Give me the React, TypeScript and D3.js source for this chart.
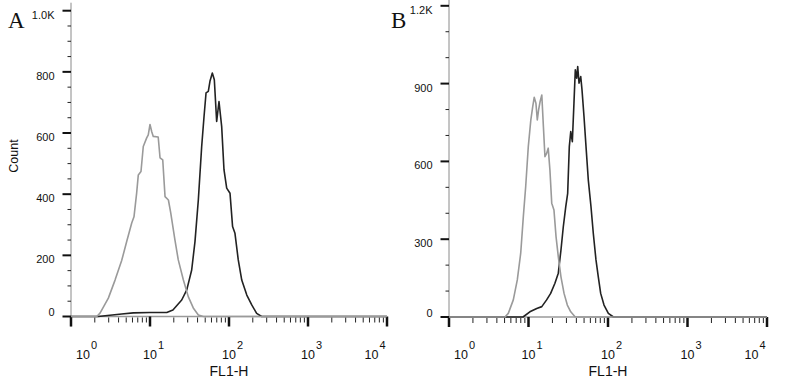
import React from "react";
import * as d3 from "d3";

// ---- Panel A data (FL1-H value, count) ----
const grayA_x = [1, 2.12, 2.33, 2.97, 3.61, 4.38, 5.07, 5.87, 6.27, 6.78, 7.11, 7.69, 8.22, 9.08, 9.51, 10, 10.5, 11.0, 12.7, 13.4, 14.5, 15.5, 17.1, 18.3, 20.7, 22.8, 26.4, 30.5, 35.3, 40.9, 47.3, 10000];
const grayA_y = [0, 0, 11, 60, 119, 183, 245, 306, 326, 404, 463, 474, 556, 584, 594, 628, 605, 589, 587, 519, 512, 392, 381, 339, 250, 185, 120, 65, 28, 5, 0, 0];
const darkA_x = [1, 2.2, 4.38, 6.15, 10, 16.3, 19.5, 25.2, 29.2, 33.7, 37.1, 40.9, 45.1, 48.3, 51.2, 54.7, 57.4, 61.5, 65.2, 69.8, 74.7, 80.8, 86.4, 93.5, 103, 111, 119, 131, 145, 168, 194, 224, 259, 10000];
const darkA_y = [0, 0, 8, 12, 13, 13, 21, 54, 87, 152, 245, 381, 556, 654, 731, 736, 769, 796, 774, 638, 703, 621, 480, 420, 403, 294, 272, 185, 119, 70, 38, 10, 0, 0];

// ---- Panel B data ----
const grayB_x = [1, 5.06, 5.57, 6.44, 7.23, 7.98, 8.61, 9.22, 9.94, 10.7, 11.3, 11.8, 12.4, 12.9, 13.4, 14.0, 14.7, 15.4, 16.1, 16.9, 17.7, 18.6, 19.6, 20.9, 22.2, 23.7, 25.6, 28.0, 30.8, 34.0, 38.5, 42.3, 10000];
const grayB_y = [0, 0, 14, 66, 143, 246, 387, 503, 657, 760, 811, 847, 824, 760, 799, 831, 856, 734, 618, 631, 651, 567, 439, 413, 310, 233, 155, 91, 46, 20, 1, 0, 0];
const darkB_x = [1, 8.53, 10.4, 12.7, 14.7, 16.9, 19.0, 21.5, 23.7, 25.6, 27.4, 29.4, 31.1, 32.6, 34.0, 35.6, 37.3, 38.8, 40.4, 41.6, 43.2, 45.4, 47.1, 49.9, 52.9, 56.5, 61.1, 65.3, 70.6, 75.5, 80.9, 89.1, 101, 117, 10000];
const darkB_y = [0, 0, 20, 33, 40, 66, 91, 130, 169, 258, 348, 425, 477, 657, 715, 676, 824, 953, 921, 966, 902, 927, 876, 773, 657, 529, 425, 323, 220, 155, 91, 46, 14, 0, 0];

// ---- Axis ticks ----
const yTicksA = [0, 200, 400, 600, 800, 1000];
const yLabelsA = ["0", "200", "400", "600", "800", "1.0K"];
const yMinorStepA = 50;
const yTicksB = [0, 300, 600, 900, 1200];
const yLabelsB = ["0", "300", "600", "900", "1.2K"];
const yMinorStepB = 100;
const xDecades = [1, 10, 100, 1000, 10000];
const xExponents = ["0", "1", "2", "3", "4"];
const xTitle = "FL1-H";
const yTitle = "Count";

const FONT = "'Liberation Sans', Arial, Helvetica, sans-serif";
const GRAY = "#9a9a9a";
const DARK = "#222222";

type PanelProps = {
  letter: string;
  x0: number;
  x1: number;
  yTop: number;
  yBottom: number;
  yMax: number;
  yTicks: number[];
  yLabels: string[];
  yMinorStep: number;
  gx: number[];
  gy: number[];
  dx: number[];
  dy: number[];
  showYTitle: boolean;
  letterX: number;
};

function Panel(p: PanelProps) {
  const x = d3.scaleLog().domain([1, 10000]).range([p.x0, p.x1]);
  const y = d3.scaleLinear().domain([0, p.yMax]).range([p.yBottom, p.yTop]);
  const line = d3
    .line<[number, number]>()
    .x((d) => x(d[0]))
    .y((d) => y(d[1]));
  const gray = p.gx.map((v, i) => [v, p.gy[i]] as [number, number]);
  const dark = p.dx.map((v, i) => [v, p.dy[i]] as [number, number]);
  const minors: number[] = [];
  for (let v = 0; v <= p.yMax; v += p.yMinorStep) {
    if (!p.yTicks.includes(v)) minors.push(v);
  }
  const xMinors: number[] = [];
  for (let d = 1; d < 10000; d *= 10) {
    for (let k = 2; k <= 9; k++) xMinors.push(d * k);
  }
  const ax = x(1);
  const ay = y(0);
  return (
    <g>
      <text x={p.letterX} y={28} fontFamily="'Liberation Serif', 'Times New Roman', serif" fontSize={23} fill="#111">
        {p.letter}
      </text>
      {p.showYTitle && (
        <text
          transform={`translate(${18},${156}) rotate(-90)`}
          textAnchor="middle"
          fontFamily={FONT}
          fontSize={12.5}
          fill="#111"
        >
          {yTitle}
        </text>
      )}
      {/* y axis line */}
      <line x1={ax} x2={ax} y1={p.yTop - 8} y2={ay + 10} stroke="#8a8a8a" strokeWidth={1} />
      {/* x axis line */}
      <line x1={ax} x2={p.x1} y1={ay} y2={ay} stroke={GRAY} strokeWidth={1.5} />
      {/* y ticks */}
      {p.yTicks.map((t, i) => (
        <g key={"yt" + i}>
          <line x1={ax - 8.5} x2={ax} y1={y(t)} y2={y(t)} stroke="#111" strokeWidth={2} />
          <text
            x={ax - 16.5}
            y={t === 0 ? y(t) - 0.5 : y(t) + 8}
            textAnchor="end"
            fontFamily={FONT}
            fontSize={11}
            fill="#111"
          >
            {p.yLabels[i]}
          </text>
        </g>
      ))}
      {minors.map((t, i) => (
        <line key={"ym" + i} x1={ax - 3.5} x2={ax} y1={y(t)} y2={y(t)} stroke="#222" strokeWidth={1} />
      ))}
      {/* x ticks */}
      {xMinors.map((t, i) => (
        <line key={"xm" + i} x1={x(t)} x2={x(t)} y1={ay + 1} y2={ay + 6} stroke="#222" strokeWidth={1} />
      ))}
      {xDecades.map((t, i) => {
        const off = i === 0 ? 12 : i === xDecades.length - 1 ? -15.5 : 0;
        const cx = x(t) + off;
        return (
          <g key={"xd" + i}>
            <line x1={x(t)} x2={x(t)} y1={ay} y2={ay + 10} stroke="#111" strokeWidth={2.5} />
            <text x={cx} y={359} textAnchor="middle" fontFamily={FONT} fontSize={12.5} fill="#111">
              10
            </text>
            <text x={cx + 8} y={349} fontFamily={FONT} fontSize={11} fill="#111">
              {xExponents[i]}
            </text>
          </g>
        );
      })}
      <text x={(p.x0 + p.x1) / 2} y={376} textAnchor="middle" fontFamily={FONT} fontSize={14} fill="#111">
        {xTitle}
      </text>
      {/* curves */}
      <path d={line(dark) || ""} fill="none" stroke={DARK} strokeWidth={1.6} strokeLinejoin="round" />
      <path d={line(gray) || ""} fill="none" stroke={GRAY} strokeWidth={1.6} strokeLinejoin="round" />
    </g>
  );
}

export default function App() {
  return (
    <svg
      width={800}
      height={384}
      viewBox="0 0 800 384"
      style={{ position: "absolute", left: 0, top: 0, background: "#fff" }}
    >
      <rect x={0} y={0} width={800} height={384} fill="#fff" />
      <Panel
        letter="A"
        letterX={8}
        x0={71}
        x1={387}
        yTop={10.7}
        yBottom={316.5}
        yMax={1000}
        yTicks={yTicksA}
        yLabels={yLabelsA}
        yMinorStep={yMinorStepA}
        gx={grayA_x}
        gy={grayA_y}
        dx={darkA_x}
        dy={darkA_y}
        showYTitle={true}
      />
      <Panel
        letter="B"
        letterX={391}
        x0={449}
        x1={767}
        yTop={5.8}
        yBottom={317}
        yMax={1200}
        yTicks={yTicksB}
        yLabels={yLabelsB}
        yMinorStep={yMinorStepB}
        gx={grayB_x}
        gy={grayB_y}
        dx={darkB_x}
        dy={darkB_y}
        showYTitle={false}
      />
    </svg>
  );
}
